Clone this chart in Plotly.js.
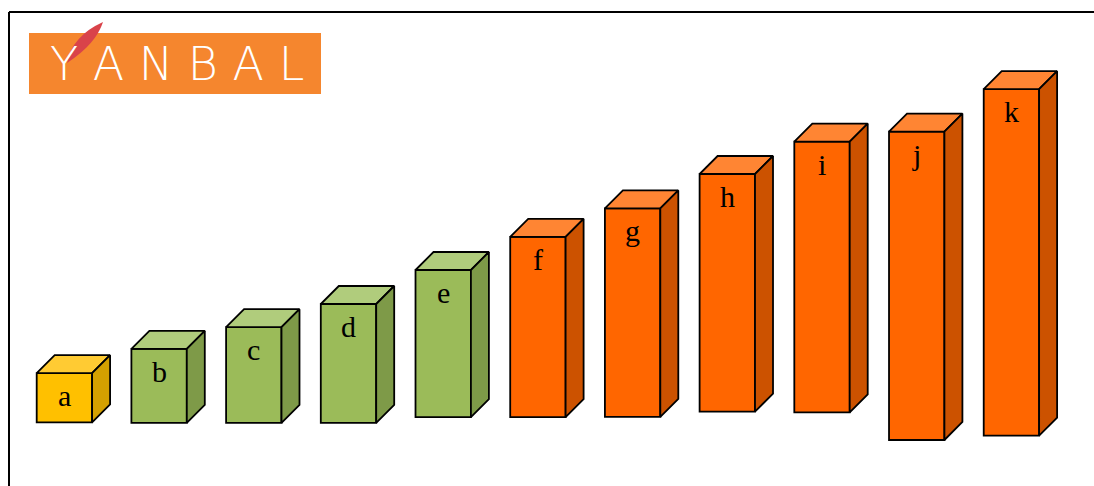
<!DOCTYPE html>
<html>
<head>
<meta charset="utf-8">
<script src="https://cdn.plot.ly/plotly-3.0.1.min.js"></script>
<style>
  html, body { margin: 0; padding: 0; background: #ffffff; }
  #chart { width: 1094px; height: 486px; }
</style>
</head>
<body>
<div id="chart"></div>
<script>
// ---- data ----
const categories = ['a', 'b', 'c', 'd', 'e', 'f', 'g', 'h', 'i', 'j', 'k'];
const topValues  = [21.7, 27.8, 33.2, 39.0, 47.5, 55.8, 62.9, 71.5, 79.6, 82.1, 92.7];
const baseValues = [9.4, 9.3, 9.3, 9.3, 10.7, 10.7, 10.8, 12.1, 11.9, 5.0, 6.1];
const groups     = ['yellow', 'green', 'green', 'green', 'green', 'orange', 'orange', 'orange', 'orange', 'orange', 'orange'];
const logoText   = 'Y A N B A L';

// ---- styles ----
const palette = {
  yellow: { front: '#FFC000', top: '#FFCB33', side: '#D4A000' },
  green:  { front: '#9BBB59', top: '#B0CC7C', side: '#7E9A48' },
  orange: { front: '#FF6600', top: '#FF8533', side: '#CC5200' }
};
const barWidth = 0.585;   // front face width (x units)
const depthX = 0.19;      // 3D depth, x units
const depthY = 4.5;       // 3D depth, y units
const edge = { color: '#000000', width: 1.8 };

const xIdx = categories.map((c, i) => i);
const traces = [];

// front faces as real bars
Object.keys(palette).forEach(g => {
  const idx = xIdx.filter(i => groups[i] === g);
  traces.push({
    type: 'bar',
    x: idx,
    y: idx.map(i => topValues[i] - baseValues[i]),
    base: idx.map(i => baseValues[i]),
    width: barWidth,
    marker: { color: palette[g].front, line: edge },
    hoverinfo: 'skip',
    showlegend: false
  });
});

// top and side faces (parallelograms built from the same values)
Object.keys(palette).forEach(g => {
  const idx = xIdx.filter(i => groups[i] === g);
  const tx = [], ty = [], sx = [], sy = [];
  idx.forEach(i => {
    const l = i - barWidth / 2, r = i + barWidth / 2;
    const t = topValues[i], b = baseValues[i];
    tx.push(l, r, r + depthX, l + depthX, l, null);
    ty.push(t, t, t + depthY, t + depthY, t, null);
    sx.push(r, r + depthX, r + depthX, r, r, null);
    sy.push(b, b + depthY, t + depthY, t, b, null);
  });
  traces.push({
    type: 'scatter', mode: 'lines', x: tx, y: ty, fill: 'toself',
    fillcolor: palette[g].top, line: edge, hoverinfo: 'skip', showlegend: false
  });
  traces.push({
    type: 'scatter', mode: 'lines', x: sx, y: sy, fill: 'toself',
    fillcolor: palette[g].side, line: edge, hoverinfo: 'skip', showlegend: false
  });
});

// category labels on the front faces
const annotations = categories.map((c, i) => ({
  x: i, y: topValues[i], xref: 'x', yref: 'y',
  text: c, showarrow: false, xanchor: 'center', yanchor: 'top', yshift: -4,
  font: { family: 'Liberation Serif, Times New Roman, serif', size: 30, color: '#000000' }
}));

// logo text
annotations.push({
  x: 177, y: 64, xref: 'x2', yref: 'y2', text: logoText, showarrow: false,
  xanchor: 'center', yanchor: 'middle',
  font: { family: 'DejaVu Sans', size: 46, color: '#ffffff', weight: 200 }
});

const shapes = [
  // frame
  { type: 'line', xref: 'x2', yref: 'y2', x0: 9, y0: 12, x1: 9, y1: 486, line: { color: '#000', width: 2 } },
  { type: 'line', xref: 'x2', yref: 'y2', x0: 9, y0: 12, x1: 1094, y1: 12, line: { color: '#000', width: 2 } },
  // logo box
  { type: 'rect', xref: 'x2', yref: 'y2', x0: 29, y0: 33, x1: 321, y1: 94, fillcolor: '#F5862E', line: { width: 0 }, layer: 'below' },
  // logo feather
  { type: 'path', xref: 'x2', yref: 'y2', path: 'M 67 63 Q 72 36 103 22 Q 96 44 67 63 Z', fillcolor: '#D9434A', line: { width: 0 } }
];

const layout = {
  width: 1094, height: 486,
  margin: { l: 0, r: 0, t: 0, b: 0, pad: 0 },
  paper_bgcolor: '#ffffff', plot_bgcolor: '#ffffff',
  barmode: 'overlay',
  showlegend: false,
  hovermode: false,
  xaxis: { range: [-0.680, 10.872], visible: false, fixedrange: true },
  yaxis: { range: [-6.5, 115], visible: false, fixedrange: true },
  xaxis2: { range: [0, 1094], visible: false, overlaying: 'x', fixedrange: true },
  yaxis2: { range: [486, 0], visible: false, overlaying: 'y', fixedrange: true },
  shapes: shapes,
  annotations: annotations
};

// dummy trace to instantiate the decoration axes
traces.unshift({ type: 'scatter', x: [0], y: [0], xaxis: 'x2', yaxis: 'y2', mode: 'markers', marker: { opacity: 0 }, hoverinfo: 'skip', showlegend: false });

Plotly.newPlot('chart', traces, layout, { displayModeBar: false, staticPlot: true });
</script>
</body>
</html>
